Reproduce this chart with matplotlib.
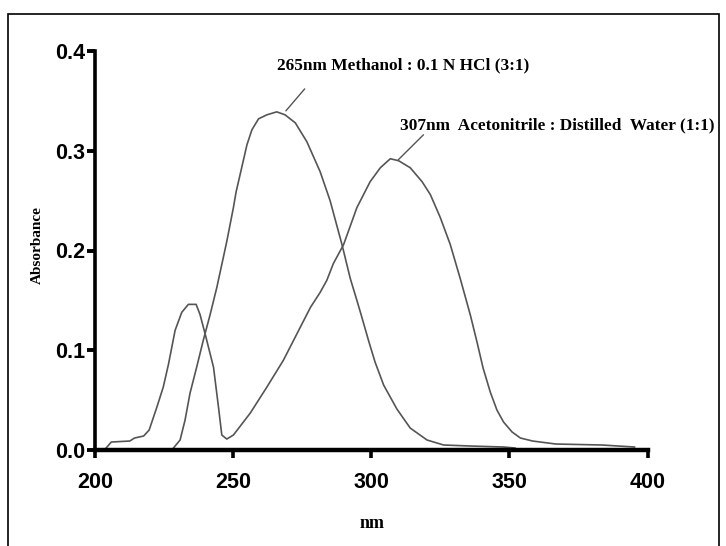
import matplotlib
matplotlib.use("Agg")
import matplotlib.pyplot as plt
from matplotlib.patches import Rectangle

# Methanol : 0.1 N HCl (3:1), peak 265 nm
wl_meoh = [227.8, 230.8, 232.6, 234.4, 236.8, 239.2, 241.7, 244.1, 247.7, 250.1,
           251.1, 253.1, 255.0, 256.8, 259.2, 262.2, 265.8, 268.8, 272.5, 276.7,
           281.5, 285.1, 289.4, 292.4, 294.8, 296.4, 299.2, 301.4, 304.5, 309.3,
           314.1, 320.2, 326.2, 335.9, 347.9, 352.0]
ab_meoh = [0.0, 0.010, 0.030, 0.057, 0.083, 0.110, 0.136, 0.163, 0.209, 0.243,
           0.259, 0.283, 0.306, 0.321, 0.332, 0.336, 0.339, 0.336, 0.328, 0.309,
           0.279, 0.250, 0.206, 0.172, 0.150, 0.135, 0.108, 0.088, 0.065, 0.041,
           0.022, 0.010, 0.005, 0.004, 0.003, 0.002]

# Acetonitrile : Distilled Water (1:1), peak 307 nm
wl_acn = [203.4, 205.9, 212.6, 214.3, 217.6, 219.6, 222.4, 224.7, 226.6, 229.0,
          231.4, 233.8, 236.6, 238.0, 239.9, 242.9, 244.7, 245.9, 247.7, 250.1,
          256.2, 262.2, 268.2, 274.3, 278.0, 281.5, 283.9, 286.3, 290.0, 294.8,
          299.6, 303.3, 306.9, 309.9, 314.1, 318.4, 321.4, 325.0, 328.6, 332.2,
          335.9, 338.3, 340.5, 343.1, 345.5, 347.9, 351.0, 354.0, 358.4, 366.8,
          383.5, 395.3]
ab_acn = [0.0, 0.008, 0.009, 0.012, 0.014, 0.020, 0.043, 0.063, 0.086, 0.120,
          0.138, 0.146, 0.146, 0.136, 0.116, 0.083, 0.043, 0.015, 0.011, 0.015,
          0.037, 0.063, 0.090, 0.123, 0.143, 0.158, 0.170, 0.187, 0.206, 0.243,
          0.269, 0.283, 0.292, 0.290, 0.283, 0.269, 0.256, 0.233, 0.206, 0.172,
          0.135, 0.108, 0.082, 0.058, 0.040, 0.028, 0.018, 0.012, 0.009, 0.006,
          0.005, 0.003]

x_ticks = [200, 250, 300, 350, 400]
y_ticks = [0.0, 0.1, 0.2, 0.3, 0.4]

label_meoh = "265nm Methanol : 0.1 N HCl (3:1)"
label_acn = "307nm  Acetonitrile : Distilled  Water (1:1)"

W, H = 726, 546
fig = plt.figure(figsize=(W / 100, H / 100), dpi=100)
ax = fig.add_axes([95 / W, 1 - 450 / H, 552.5 / W, 399 / H])

line_col = "#555555"
ax.plot(wl_meoh, ab_meoh, color=line_col, lw=1.2)
ax.plot(wl_acn, ab_acn, color=line_col, lw=1.2)

ax.set_xlim(200, 400)
ax.set_ylim(0, 0.4)
ax.set_xticks(x_ticks)
ax.set_yticks(y_ticks)
ax.set_yticklabels(["%.1f" % v for v in y_ticks])

for s in ["top", "right"]:
    ax.spines[s].set_visible(False)
ax.spines["left"].set_linewidth(2.6)
ax.spines["bottom"].set_linewidth(3.2)
ax.tick_params(axis="x", length=6, width=2.6, pad=10)
ax.tick_params(axis="y", length=6, width=2.8, pad=1)
for lab in ax.get_xticklabels() + ax.get_yticklabels():
    lab.set_fontfamily(["Liberation Sans", "DejaVu Sans"])
    lab.set_fontweight("bold")
    lab.set_fontsize(15.5)

serif = ["Liberation Serif", "DejaVu Serif"]
fig.text(37 / W, 1 - 245 / H, "Absorbance", rotation=90, ha="center", va="center",
         family=serif, fontweight="bold", fontsize=11)
fig.text(372 / W, 1 - 523 / H, "nm", ha="center", va="center",
         family=serif, fontweight="bold", fontsize=13)

# annotation labels with leader lines
fig.text(277 / W, 1 - 65 / H, label_meoh, ha="left", va="center",
         family=serif, fontweight="bold", fontsize=12.4)
ax.annotate("", xy=(269.1, 0.340), xytext=(275.9, 0.362),
            arrowprops=dict(arrowstyle="-", color=line_col, lw=1, shrinkA=0, shrinkB=0))
fig.text(400 / W, 1 - 125 / H, label_acn, ha="left", va="center",
         family=serif, fontweight="bold", fontsize=12.4)
ax.annotate("", xy=(309.8, 0.291), xytext=(318.9, 0.316),
            arrowprops=dict(arrowstyle="-", color=line_col, lw=1, shrinkA=0, shrinkB=0))

# outer frame of the figure
fig.patches.append(Rectangle((8 / W, -0.02), 711 / W, 1 - 14 / H + 0.02,
                             transform=fig.transFigure, fill=False,
                             edgecolor="black", lw=1.2))

fig.savefig("out.png", dpi=100)
